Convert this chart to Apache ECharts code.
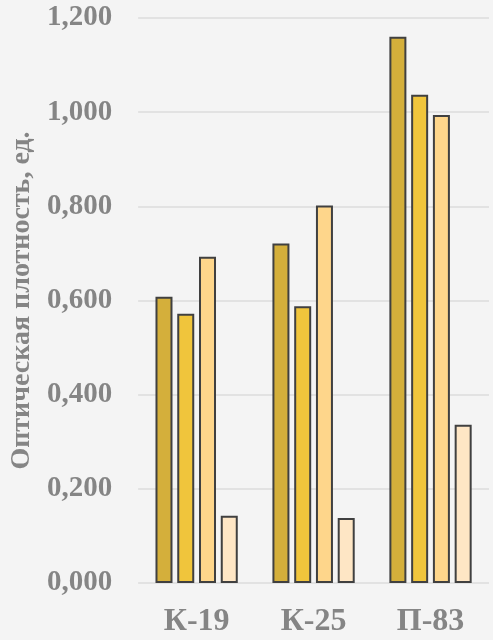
<!DOCTYPE html>
<html>
<head>
    <meta charset="utf-8">
    <title>Оптическая плотность</title>
    <script src="https://cdn.jsdelivr.net/npm/echarts@6/dist/echarts.min.js"></script>
    <style>
        html, body { margin: 0; padding: 0; background: #f4f4f4; }
    </style>
</head>
<body>
    <div id="main" style="width: 493px;height:640px;"></div>

    <script type="text/javascript">
        // данные с графика
        var categories = ['К-19', 'К-25', 'П-83']
        var series1 = [0.608, 0.721, 1.160]
        var series2 = [0.572, 0.588, 1.037]
        var series3 = [0.693, 0.802, 0.994]
        var series4 = [0.143, 0.138, 0.336]
        var yTicks = [0, 0.2, 0.4, 0.6, 0.8, 1.0, 1.2]

        var colors = ['#d4af3b', '#f0c53c', '#fed68b', '#fee6c5']
        var font = '"Liberation Serif", "Times New Roman", serif'
        var textColor = '#858585'

        var makeSeries = function (data, color) {
            return {
                type: 'bar',
                data: data,
                barWidth: 17,
                barGap: '28%',
                itemStyle: {
                    color: color,
                    borderColor: '#404040',
                    borderWidth: 2
                }
            }
        }

        var myChart = echarts.init(document.getElementById('main'))
        var option = {
            backgroundColor: '#f4f4f4',
            animation: false,
            grid: {
                left: 135,
                right: 4,
                top: 18,
                bottom: 57
            },
            xAxis: {
                type: 'category',
                data: categories,
                axisLine: { show: false },
                axisTick: { show: false },
                axisLabel: {
                    color: textColor,
                    fontFamily: font,
                    fontWeight: 'bold',
                    fontSize: 32,
                    margin: 23
                }
            },
            yAxis: {
                type: 'value',
                min: yTicks[0],
                max: yTicks[yTicks.length - 1],
                interval: 0.2,
                name: 'Оптическая плотность, ед.',
                nameLocation: 'middle',
                nameGap: 99,
                nameTextStyle: {
                    color: textColor,
                    fontFamily: font,
                    fontWeight: 'bold',
                    fontSize: 28
                },
                axisLine: { show: false },
                axisTick: { show: false },
                splitLine: {
                    lineStyle: { color: '#dcdcdc', width: 1.5 }
                },
                axisLabel: {
                    color: textColor,
                    fontFamily: font,
                    fontWeight: 'bold',
                    fontSize: 29,
                    margin: 26,
                    formatter: function (v) {
                        return v.toFixed(3).replace('.', ',')
                    }
                }
            },
            series: [
                makeSeries(series1, colors[0]),
                makeSeries(series2, colors[1]),
                makeSeries(series3, colors[2]),
                makeSeries(series4, colors[3])
            ]
        }
        myChart.setOption(option)
    </script>
</body>
</html>
